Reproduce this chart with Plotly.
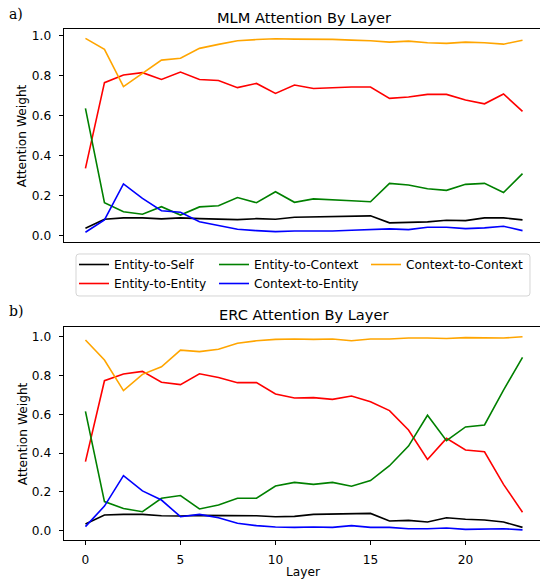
import plotly.graph_objects as go

layers = list(range(24))
series_names = ["Entity-to-Self", "Entity-to-Entity", "Entity-to-Context", "Context-to-Entity", "Context-to-Context"]
series_colors = ["black", "red", "green", "blue", "orange"]
legend_columns = ["legend", "legend", "legend2", "legend2", "legend3"]

mlm_self = [0.035,0.080,0.087,0.087,0.082,0.087,0.083,0.082,0.078,0.083,0.080,0.090,0.092,0.092,0.093,0.097,0.062,0.063,0.067,0.075,0.073,0.087,0.087,0.077]
mlm_e2e = [0.335,0.765,0.803,0.815,0.781,0.818,0.781,0.776,0.740,0.761,0.711,0.753,0.736,0.740,0.743,0.743,0.686,0.693,0.706,0.706,0.678,0.659,0.708,0.621]
mlm_e2c = [0.636,0.163,0.118,0.105,0.143,0.101,0.142,0.148,0.189,0.163,0.218,0.165,0.182,0.176,0.173,0.168,0.260,0.252,0.233,0.225,0.255,0.260,0.214,0.309]
mlm_c2e = [0.015,0.077,0.257,0.185,0.123,0.115,0.068,0.048,0.030,0.023,0.018,0.021,0.020,0.021,0.025,0.027,0.032,0.028,0.040,0.040,0.033,0.037,0.045,0.023]
mlm_c2c = [0.987,0.932,0.745,0.811,0.878,0.887,0.937,0.957,0.975,0.981,0.985,0.983,0.983,0.982,0.978,0.975,0.968,0.973,0.965,0.962,0.968,0.965,0.958,0.978]

erc_self = [0.034,0.081,0.084,0.084,0.077,0.076,0.079,0.079,0.077,0.077,0.072,0.074,0.084,0.086,0.086,0.089,0.050,0.053,0.045,0.067,0.059,0.055,0.045,0.017]
erc_e2e = [0.356,0.773,0.808,0.821,0.765,0.753,0.809,0.790,0.763,0.763,0.705,0.684,0.686,0.677,0.694,0.665,0.619,0.519,0.367,0.476,0.416,0.407,0.239,0.095]
erc_e2c = [0.615,0.150,0.114,0.098,0.167,0.181,0.112,0.132,0.167,0.167,0.230,0.249,0.239,0.249,0.229,0.258,0.335,0.436,0.595,0.464,0.535,0.545,0.725,0.893]
erc_c2e = [0.021,0.127,0.284,0.205,0.158,0.072,0.084,0.067,0.038,0.026,0.019,0.017,0.019,0.017,0.026,0.017,0.017,0.010,0.010,0.014,0.007,0.009,0.010,0.004]
erc_c2c = [0.983,0.880,0.722,0.806,0.845,0.931,0.923,0.935,0.966,0.979,0.986,0.988,0.986,0.988,0.979,0.988,0.988,0.993,0.993,0.991,0.995,0.995,0.993,1.0]

x_ticks = [0, 5, 10, 15, 20]
y_ticks = [0.0, 0.2, 0.4, 0.6, 0.8, 1.0]
y_ticklabels = ["0.0", "0.2", "0.4", "0.6", "0.8", "1.0"]

mlm = [mlm_self, mlm_e2e, mlm_e2c, mlm_c2e, mlm_c2c]
erc = [erc_self, erc_e2e, erc_e2c, erc_c2e, erc_c2c]

W, H = 540, 581
FONT = "DejaVu Sans"
FS = 12.2
TFS = 14.6

fig = go.Figure()
for name, col, lg, ys in zip(series_names, series_colors, legend_columns, mlm):
    fig.add_trace(go.Scatter(x=layers, y=ys, mode="lines", name=name, line=dict(color=col, width=1.6),
                             xaxis="x", yaxis="y", legend=lg, showlegend=True))
for name, col, lg, ys in zip(series_names, series_colors, legend_columns, erc):
    fig.add_trace(go.Scatter(x=layers, y=ys, mode="lines", name=name, line=dict(color=col, width=1.6),
                             xaxis="x2", yaxis="y2", showlegend=False))

xdom = [63.6 / W, 1.0]
top_dom = [1 - 242 / H, 1 - 29 / H]
bot_dom = [1 - 540 / H, 1 - 327 / H]
xc = (63.6 + 544) / 2 / W

def axis(**kw):
    base = dict(showline=True, linecolor="black", linewidth=1, showgrid=False, zeroline=False,
                ticks="outside", ticklen=4, tickwidth=1, tickcolor="black",
                tickfont=dict(family=FONT, size=FS, color="black"), automargin=False)
    base.update(kw)
    return base

def leg(xpx):
    return dict(orientation="v", x=xpx / W, y=1 - 250 / H, xanchor="left", yanchor="top",
                bgcolor="rgba(0,0,0,0)", borderwidth=0, traceorder="normal",
                font=dict(family=FONT, size=FS, color="black"))

# rounded legend frame (pixel coordinates converted to paper)
bx0, bx1, by0, by1, r = 76, 530, 254, 296, 3
def P(x, y):
    return f"{x / W:.6f},{1 - y / H:.6f}"
frame_path = (f"M {P(bx0 + r, by0)} L {P(bx1 - r, by0)} Q {P(bx1, by0)} {P(bx1, by0 + r)} "
              f"L {P(bx1, by1 - r)} Q {P(bx1, by1)} {P(bx1 - r, by1)} "
              f"L {P(bx0 + r, by1)} Q {P(bx0, by1)} {P(bx0, by1 - r)} "
              f"L {P(bx0, by0 + r)} Q {P(bx0, by0)} {P(bx0 + r, by0)} Z")

fig.update_layout(
    width=W, height=H,
    margin=dict(l=0, r=0, t=0, b=0),
    paper_bgcolor="white", plot_bgcolor="white",
    font=dict(family=FONT, size=FS, color="black"),
    xaxis=axis(domain=xdom, range=[-1.15, 23.92], tickvals=x_ticks, showticklabels=False, ticks="",
               mirror=True, anchor="y"),
    yaxis=axis(domain=top_dom, range=[-0.034, 1.034], tickvals=y_ticks, ticktext=y_ticklabels,
               anchor="x", ticklabelstandoff=5),
    xaxis2=axis(domain=xdom, range=[-1.15, 23.92], tickvals=x_ticks, mirror=True, anchor="y2",
                ticklabelstandoff=4),
    yaxis2=axis(domain=bot_dom, range=[-0.048, 1.050], tickvals=y_ticks, ticktext=y_ticklabels,
                anchor="x2", ticklabelstandoff=5),
    legend=leg(74),
    legend2=leg(214),
    legend3=leg(366),
    shapes=[
        dict(type="path", xref="paper", yref="paper", path=frame_path,
             line=dict(color="#d5d5d5", width=1), fillcolor="white", layer="above"),
    ],
    annotations=[
        dict(text="MLM Attention By Layer", x=xc, y=1 - 17 / H, xref="paper", yref="paper",
             showarrow=False, font=dict(family=FONT, size=TFS, color="black"), xanchor="center", yanchor="middle"),
        dict(text="ERC Attention By Layer", x=xc, y=1 - 314 / H, xref="paper", yref="paper",
             showarrow=False, font=dict(family=FONT, size=TFS, color="black"), xanchor="center", yanchor="middle"),
        dict(text="a)", x=7 / W, y=1 - 14 / H, xref="paper", yref="paper", showarrow=False,
             font=dict(family="DejaVu Serif", size=14, color="black"), xanchor="left", yanchor="middle"),
        dict(text="b)", x=7 / W, y=1 - 311 / H, xref="paper", yref="paper", showarrow=False,
             font=dict(family="DejaVu Serif", size=14, color="black"), xanchor="left", yanchor="middle"),
        dict(text="Attention Weight", x=22.7 / W, y=1 - 135.5 / H, xref="paper", yref="paper", showarrow=False,
             textangle=-90, font=dict(family=FONT, size=FS, color="black"), xanchor="center", yanchor="middle"),
        dict(text="Attention Weight", x=22.7 / W, y=1 - 433.5 / H, xref="paper", yref="paper", showarrow=False,
             textangle=-90, font=dict(family=FONT, size=FS, color="black"), xanchor="center", yanchor="middle"),
        dict(text="Layer", x=xc, y=1 - 572 / H, xref="paper", yref="paper", showarrow=False,
             font=dict(family=FONT, size=FS, color="black"), xanchor="center", yanchor="middle"),
    ],
)

fig.write_html("out.html", config={"displayModeBar": False},
               post_script="document.body.style.margin='0px';")
